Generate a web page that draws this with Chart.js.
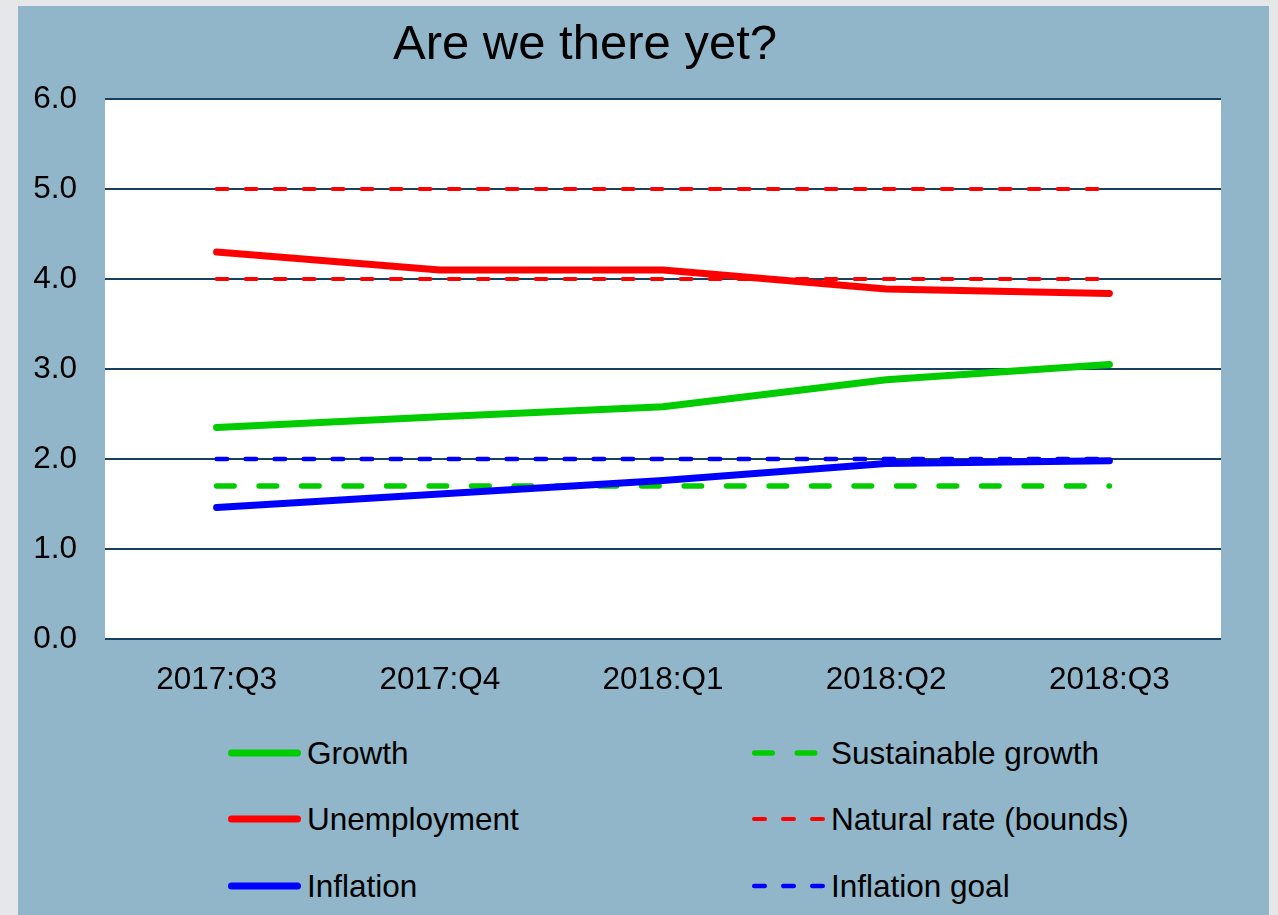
<!DOCTYPE html>
<html>
<head>
<meta charset="utf-8">
<script src="https://cdn.jsdelivr.net/npm/chart.js@4"></script>
<style>
  html, body { margin: 0; padding: 0; background: #e6e7e9; }
  body { width: 1278px; height: 915px; position: relative; overflow: hidden; font-family: "Liberation Sans", Arial, sans-serif; }
  #panel { position: absolute; left: 18px; top: 6px; width: 1251px; height: 909px; background: #91b6ca; }
  #chartBox { position: absolute; left: 0; top: 0; width: 1251px; height: 706px; }
  #title { position: absolute; left: 375px; top: 12px; font-size: 49px; line-height: 49px; color: #000; white-space: nowrap; }
  .item { position: absolute; display: flex; align-items: center; height: 34px; margin-top: -17px; }
  .item svg { display: block; }
  .item span { font-size: 31.5px; line-height: 32px; color: #000; margin-left: 6px; white-space: nowrap; }
</style>
</head>
<body>
<div id="panel">
  <div id="chartBox"><canvas id="chart"></canvas></div>
  <div id="title">Are we there yet?</div>
  <div id="legend"></div>
</div>
<script>
// quarterly readings
const quarters = ["2017:Q3", "2017:Q4", "2018:Q1", "2018:Q2", "2018:Q3"];
const growth = [2.35, 2.47, 2.58, 2.88, 3.05];
const unemployment = [4.3, 4.1, 4.1, 3.89, 3.84];
const inflation = [1.46, 1.61, 1.76, 1.95, 1.98];

// reference levels
const sustainableGrowth = [1.7, 1.7, 1.7, 1.7, 1.7];
const naturalRateLow = [4.0, 4.0, 4.0, 4.0, 4.0];
const naturalRateHigh = [5.0, 5.0, 5.0, 5.0, 5.0];
const inflationGoal = [2.0, 2.0, 2.0, 2.0, 2.0];

const GREEN = "#00cc00", RED = "#ff0000", BLUE = "#0000ff";
const FONT = "'Liberation Sans', Arial, sans-serif";

const solid = (label, data, color) => ({
  label, data, borderColor: color, backgroundColor: color,
  borderWidth: 7, borderCapStyle: "round", borderJoinStyle: "round",
  pointRadius: 0, tension: 0, order: 0
});
const dashed = (label, data, color, width, dash) => ({
  label, data, borderColor: color, backgroundColor: color,
  borderWidth: width, borderDash: dash, borderCapStyle: "round",
  pointRadius: 0, tension: 0, order: 1
});

const datasets = [
  solid("Growth", growth, GREEN),
  dashed("Sustainable growth", sustainableGrowth, GREEN, 5.5, [17.5, 25]),
  solid("Unemployment", unemployment, RED),
  dashed("Natural rate (bounds)", naturalRateLow, RED, 4, [11, 18]),
  Object.assign(dashed("Natural rate (bounds)", naturalRateHigh, RED, 4, [11, 18]), { noLegend: true }),
  solid("Inflation", inflation, BLUE),
  dashed("Inflation goal", inflationGoal, BLUE, 4.5, [10.5, 18.5])
];

const chart = new Chart(document.getElementById("chart"), {
  type: "line",
  data: { labels: quarters, datasets },
  options: {
    responsive: true,
    maintainAspectRatio: false,
    animation: false,
    layout: { padding: { top: 93, right: 48, left: 0, bottom: 0 } },
    plugins: { legend: { display: false }, tooltip: { enabled: false } },
    scales: {
      x: {
        offset: true,
        grid: { display: false, drawTicks: false },
        border: { display: false },
        ticks: { color: "#000", font: { family: FONT, size: 31.5 }, padding: 22, maxRotation: 0 },
        afterFit: s => { s.height = 73; }
      },
      y: {
        min: 0, max: 6,
        grid: { color: "#17405e", lineWidth: 2, drawTicks: false },
        border: { display: false },
        ticks: {
          stepSize: 1, color: "#000", font: { family: FONT, size: 31.5 }, padding: 28,
          callback: v => v.toFixed(1)
        },
        afterFit: s => { s.width = 87; }
      }
    }
  },
  plugins: [{
    id: "whiteArea",
    beforeDraw(c) {
      const a = c.chartArea, ctx = c.ctx;
      ctx.save();
      ctx.fillStyle = "#ffffff";
      ctx.fillRect(a.left, a.top, a.right - a.left, a.bottom - a.top);
      ctx.restore();
    }
  }]
});

/* ===== legend: two columns, three rows ===== */
const legendEl = document.getElementById("legend");
const colX = [210, 734];
const rowY = [747, 813, 880];
chart.data.datasets.filter(ds => !ds.noLegend).forEach((ds, i) => {
  const item = document.createElement("div");
  item.className = "item";
  item.style.left = colX[i % 2] + "px";
  item.style.top = rowY[Math.floor(i / 2)] + "px";
  const w = ds.borderWidth;
  const dash = ds.borderDash ? `stroke-dasharray="${ds.borderDash.join(" ")}"` : "";
  item.innerHTML =
    `<svg width="73" height="12"><line x1="${w / 2}" y1="6" x2="${73 - w / 2}" y2="6" stroke="${ds.borderColor}" ` +
    `stroke-width="${w}" stroke-linecap="round" ${dash}/></svg><span>${ds.label}</span>`;
  legendEl.appendChild(item);
});
</script>
</body>
</html>
